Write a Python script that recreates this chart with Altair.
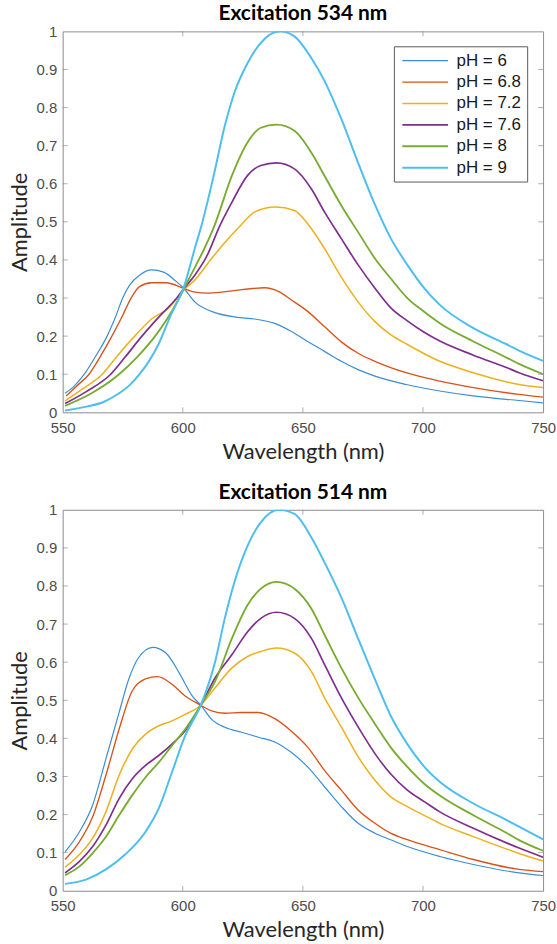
import altair as alt
import pandas as pd

PH_LABELS = ["pH = 6", "pH = 6.8", "pH = 7.2", "pH = 7.6", "pH = 8", "pH = 9"]
COLORS = ["#3b8ed4", "#D95319", "#EDB120", "#7E2F8E", "#77AC30", "#4DBEEE"]
WIDTHS = [1.2, 2, 2, 2, 2, 2]

X_TICKS = [550, 600, 650, 700, 750]
Y_TICKS = [0, 0.1, 0.2, 0.3, 0.4, 0.5, 0.6, 0.7, 0.8, 0.9, 1]

# ---------- Excitation 534 nm ----------
t534_ph6_x = [551, 555, 559, 564, 568.5, 572, 575, 578, 582, 587, 592, 597, 600.5, 605, 612, 622, 630, 638, 645, 652, 659, 666, 673, 680, 693, 707, 721, 740, 750]
t534_ph6_y = [0.05, 0.07, 0.1, 0.15, 0.2, 0.25, 0.3, 0.335, 0.36, 0.374, 0.368, 0.345, 0.325, 0.29, 0.265, 0.25, 0.245, 0.234, 0.213, 0.186, 0.16, 0.134, 0.112, 0.095, 0.073, 0.056, 0.043, 0.031, 0.025]

t534_ph68_x = [551.5, 556, 561, 566, 570.5, 575, 578.5, 582, 587, 593, 600.5, 604, 611, 622, 629, 634, 640, 645, 652, 659, 666, 673, 680, 693, 707, 721, 740, 750]
t534_ph68_y = [0.043, 0.07, 0.1, 0.15, 0.2, 0.255, 0.3, 0.33, 0.34, 0.34, 0.325, 0.317, 0.313, 0.32, 0.325, 0.327, 0.317, 0.296, 0.265, 0.225, 0.185, 0.155, 0.134, 0.104, 0.082, 0.065, 0.047, 0.04]

t534_ph72_x = [551, 558, 566.5, 573, 580, 587, 594, 600.5, 605, 612, 619, 624, 630, 638.5, 646.5, 652, 659, 666, 673, 680, 686.5, 693.5, 707, 721, 740, 750]
t534_ph72_y = [0.03, 0.06, 0.1, 0.15, 0.2, 0.245, 0.273, 0.322, 0.347, 0.404, 0.456, 0.49, 0.526, 0.539, 0.53, 0.495, 0.43, 0.355, 0.29, 0.238, 0.204, 0.178, 0.134, 0.104, 0.073, 0.065]

t534_ph76_x = [551, 560, 570, 576, 583, 590, 597.5, 600.5, 605, 610, 615.5, 620.5, 627, 632.5, 639, 646.5, 653.5, 659, 666, 673, 680, 686.5, 693.5, 700.5, 707, 721, 735, 740, 750]
t534_ph76_y = [0.023, 0.055, 0.1, 0.145, 0.2, 0.25, 0.3, 0.325, 0.36, 0.41, 0.491, 0.552, 0.622, 0.648, 0.655, 0.639, 0.587, 0.526, 0.456, 0.387, 0.326, 0.275, 0.24, 0.21, 0.187, 0.15, 0.117, 0.104, 0.083]

t534_ph8_x = [551, 562, 573.5, 581, 588.5, 594, 598.5, 600.5, 605, 609, 613, 620.5, 627, 632.5, 639, 646.5, 653.5, 659, 666, 673, 680, 686.5, 693.5, 700.5, 707, 721, 735, 740, 750]
t534_ph8_y = [0.017, 0.05, 0.1, 0.145, 0.2, 0.25, 0.3, 0.325, 0.38, 0.43, 0.487, 0.622, 0.709, 0.747, 0.755, 0.739, 0.682, 0.621, 0.543, 0.473, 0.404, 0.352, 0.3, 0.264, 0.234, 0.186, 0.143, 0.127, 0.1]

t534_ph9_x = [551, 560, 567, 573, 578, 582, 586, 590, 595, 600.5, 605, 608, 613, 617.5, 621.5, 627, 632.5, 640.5, 646.5, 653.5, 659, 666, 673, 680, 686.5, 693.5, 700.5, 707, 721, 735, 740, 750]
t534_ph9_y = [0.005, 0.015, 0.027, 0.048, 0.072, 0.1, 0.135, 0.18, 0.255, 0.33, 0.43, 0.495, 0.625, 0.752, 0.839, 0.917, 0.97, 1.0, 0.987, 0.93, 0.87, 0.77, 0.655, 0.545, 0.458, 0.387, 0.326, 0.282, 0.221, 0.178, 0.162, 0.135]

# ---------- Excitation 514 nm ----------
t514_ph6_x = [551, 557, 562.5, 568, 573.5, 577.5, 581.5, 587.5, 593, 598.5, 604, 607.5, 612, 617.5, 624.5, 631.5, 638.5, 645, 652, 659, 666, 673, 680, 686.5, 693.5, 707, 721, 740, 750]
t514_ph6_y = [0.102, 0.155, 0.225, 0.346, 0.468, 0.555, 0.611, 0.639, 0.624, 0.572, 0.511, 0.487, 0.45, 0.429, 0.416, 0.403, 0.39, 0.364, 0.325, 0.273, 0.221, 0.177, 0.151, 0.134, 0.116, 0.09, 0.069, 0.047, 0.04]

t514_ph68_x = [551, 557, 562.5, 568, 573.5, 579, 584.5, 589.5, 595.5, 601, 607.5, 612, 617.5, 624.5, 631.5, 638.5, 645, 652, 659, 666, 673, 680, 686.5, 693.5, 707, 721, 740, 750]
t514_ph68_y = [0.082, 0.129, 0.194, 0.303, 0.424, 0.525, 0.556, 0.562, 0.542, 0.511, 0.487, 0.472, 0.466, 0.468, 0.468, 0.451, 0.42, 0.377, 0.316, 0.264, 0.212, 0.177, 0.151, 0.134, 0.108, 0.082, 0.056, 0.05]

t514_ph72_x = [551, 557, 562.5, 568, 573.5, 579, 584.5, 590, 595.5, 601, 607.5, 612.5, 620.5, 627, 632.5, 639, 646.5, 653.5, 659, 666, 673, 680, 686.5, 693.5, 700.5, 707, 721, 740, 750]
t514_ph72_y = [0.062, 0.095, 0.138, 0.207, 0.303, 0.372, 0.411, 0.433, 0.446, 0.463, 0.487, 0.525, 0.585, 0.615, 0.628, 0.637, 0.624, 0.576, 0.507, 0.43, 0.352, 0.29, 0.247, 0.221, 0.198, 0.177, 0.142, 0.098, 0.078]

t514_ph76_x = [551, 557, 562.5, 568, 573.5, 579, 584.5, 590, 595.5, 601, 607.5, 613.5, 620.5, 627, 632.5, 639, 646.5, 653.5, 659, 666, 673, 680, 686.5, 693.5, 700.5, 707, 721, 735, 740, 750]
t514_ph76_y = [0.047, 0.077, 0.116, 0.172, 0.242, 0.294, 0.329, 0.355, 0.385, 0.42, 0.487, 0.559, 0.62, 0.68, 0.715, 0.731, 0.715, 0.663, 0.594, 0.507, 0.43, 0.36, 0.307, 0.264, 0.234, 0.207, 0.164, 0.125, 0.112, 0.088]

t514_ph8_x = [551, 557, 562.5, 568, 573.5, 579, 584.5, 590, 595.5, 601, 607.5, 613.5, 620.5, 627, 632.5, 639, 646.5, 653.5, 659, 666, 673, 680, 686.5, 693.5, 700.5, 707, 721, 735, 740, 750]
t514_ph8_y = [0.041, 0.064, 0.099, 0.142, 0.198, 0.251, 0.298, 0.337, 0.381, 0.424, 0.487, 0.55, 0.663, 0.75, 0.793, 0.811, 0.793, 0.741, 0.672, 0.585, 0.507, 0.438, 0.377, 0.325, 0.281, 0.25, 0.198, 0.151, 0.133, 0.105]

t514_ph9_x = [551, 560, 568, 576, 584.5, 590, 595.5, 601, 607.5, 613.5, 617.5, 621.5, 627, 632.5, 640, 646.5, 653.5, 659, 666, 673, 680, 686.5, 693.5, 700.5, 707, 721, 735, 740, 750]
t514_ph9_y = [0.018, 0.03, 0.056, 0.095, 0.155, 0.216, 0.311, 0.407, 0.487, 0.602, 0.715, 0.81, 0.906, 0.967, 1.0, 0.989, 0.928, 0.862, 0.77, 0.662, 0.555, 0.46, 0.385, 0.326, 0.286, 0.229, 0.185, 0.168, 0.135]

SERIES_534 = [(t534_ph6_x, t534_ph6_y), (t534_ph68_x, t534_ph68_y), (t534_ph72_x, t534_ph72_y),
              (t534_ph76_x, t534_ph76_y), (t534_ph8_x, t534_ph8_y), (t534_ph9_x, t534_ph9_y)]
SERIES_514 = [(t514_ph6_x, t514_ph6_y), (t514_ph68_x, t514_ph68_y), (t514_ph72_x, t514_ph72_y),
              (t514_ph76_x, t514_ph76_y), (t514_ph8_x, t514_ph8_y), (t514_ph9_x, t514_ph9_y)]

W, H = 483, 383
TICK_COLOR = "#8c8c8c"
LABEL_FONT = "Liberation Sans"
TITLE_FONT = "Lato"


def make_df(series):
    rows = []
    for label, (xs, ys) in zip(PH_LABELS, series):
        for x, y in zip(xs, ys):
            rows.append({"series": label, "wl": x, "amp": y})
    return pd.DataFrame(rows)


AXIS_COMMON = dict(grid=False, ticks=False, domain=False, labelFontSize=15,
                   labelFont=LABEL_FONT, labelColor="#4d4d4d", labelFlush=False,
                   labelOverlap=False,
                   titleFont=TITLE_FONT, titleFontSize=22, titleFontWeight="normal",
                   titleColor="#262626")


def x_enc(field):
    return alt.X(field, scale=alt.Scale(domain=[550, 750], nice=False, zero=False),
                 axis=alt.Axis(values=X_TICKS, title="Wavelength (nm)", labelPadding=8,
                               titlePadding=6, **AXIS_COMMON))


def y_enc(field):
    return alt.Y(field, scale=alt.Scale(domain=[0, 1], nice=False),
                 axis=alt.Axis(values=Y_TICKS, format="~g", title="Amplitude", labelPadding=6,
                               titlePadding=4, **AXIS_COMMON))


def panel(series, title):
    df = make_df(series)
    legend = alt.Legend(
        title=None, orient="none", legendX=333, legendY=15,
        symbolType="M-4.6,0H4.6", symbolSize=100, symbolStrokeWidth=2,
        symbolOffset=17, labelOffset=23,
        labelFontSize=17, labelFont=LABEL_FONT, labelColor="#1a1a1a",
        strokeColor="#5a5a5a", fillColor="white", padding=6,
        rowPadding=3.5,
    )
    lines = alt.Chart(df).mark_line(interpolate="monotone", clip=True).encode(
        x=x_enc("wl:Q"),
        y=y_enc("amp:Q"),
        color=alt.Color("series:N", scale=alt.Scale(domain=PH_LABELS, range=COLORS),
                        sort=PH_LABELS, legend=legend),
        strokeWidth=alt.StrokeWidth("series:N", scale=alt.Scale(domain=PH_LABELS, range=WIDTHS),
                                    legend=None),
        order=alt.Order("wl:Q"),
    )
    xt = pd.DataFrame({"wl": X_TICKS[1:-1]})
    yt = pd.DataFrame({"amp": Y_TICKS[1:-1]})
    tick = dict(color=TICK_COLOR, thickness=1, size=5)
    bottom = alt.Chart(xt).mark_tick(**tick).encode(x=x_enc("wl:Q"), y=alt.value(H - 2.5))
    top = alt.Chart(xt).mark_tick(**tick).encode(x=x_enc("wl:Q"), y=alt.value(2.5))
    left = alt.Chart(yt).mark_tick(**tick).encode(y=y_enc("amp:Q"), x=alt.value(2.5))
    right = alt.Chart(yt).mark_tick(**tick).encode(y=y_enc("amp:Q"), x=alt.value(W - 2.5))
    return alt.layer(lines, bottom, top, left, right).properties(
        width=W, height=H,
        title=alt.TitleParams(title, font=TITLE_FONT, fontSize=21, fontWeight="bold",
                              color="#000000", anchor="middle", offset=0),
    )


chart = alt.vconcat(
    panel(SERIES_534, "Excitation 534 nm"),
    panel(SERIES_514, "Excitation 514 nm"),
    spacing=18,
).properties(
    padding={"left": 8, "top": 0, "right": 0, "bottom": 0},
    background="white",
).configure_view(stroke=TICK_COLOR, strokeWidth=1)

chart.save("out.html", embed_options={"renderer": "svg", "actions": False})
